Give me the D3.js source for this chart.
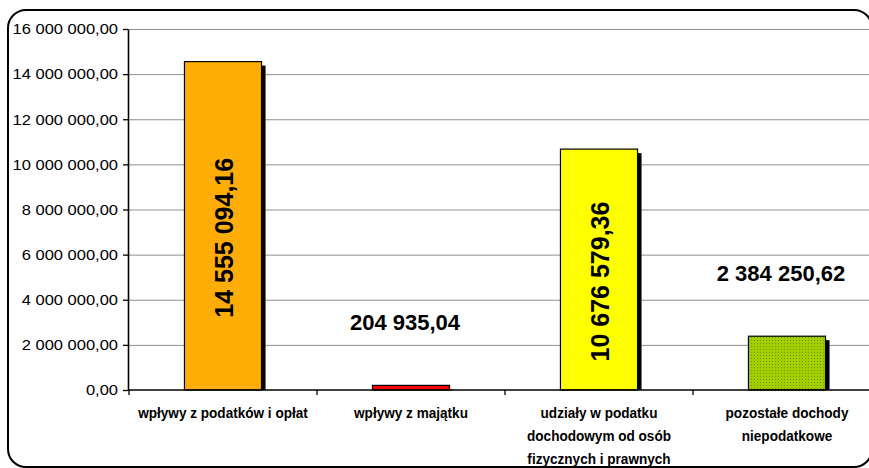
<!DOCTYPE html>
<html>
<head>
<meta charset="utf-8">
<script src="https://cdn.jsdelivr.net/npm/d3@7"></script>
<style>
  html, body { margin: 0; padding: 0; background: #fff; }
  svg { display: block; font-family: "Liberation Sans", Arial, sans-serif; }
</style>
</head>
<body>
<svg id="chart" width="869" height="468"></svg>
<script>
const categories = [
  "wpływy z podatków i opłat",
  "wpływy z majątku",
  "udziały w podatku\ndochodowym od osób\nfizycznych i prawnych",
  "pozostałe dochody\nniepodatkowe"
];
const values = [14555094.16, 204935.04, 10676579.36, 2384250.62];
const yTicks = [0, 2000000, 4000000, 6000000, 8000000, 10000000, 12000000, 14000000, 16000000];
const fills = ["url(#patOrange)", "#FF0000", "#FFFF00", "url(#patGreen)"];

const svg = d3.select("#chart");
const W = 869, H = 468;
const plot = { left: 128, right: 881, top: 29, bottom: 390 };

const pl = d3.formatLocale({ decimal: ",", thousands: " ", grouping: [3], currency: ["", ""] });
const fmt = pl.format(",.2f");

// patterns
const defs = svg.append("defs");
const po = defs.append("pattern").attr("id", "patOrange").attr("width", 2).attr("height", 2).attr("patternUnits", "userSpaceOnUse");
po.append("rect").attr("width", 2).attr("height", 2).attr("fill", "#FFB800");
po.append("rect").attr("width", 1).attr("height", 1).attr("fill", "#FF9A1A");
po.append("rect").attr("x", 1).attr("y", 1).attr("width", 1).attr("height", 1).attr("fill", "#FFAA00");
const pg = defs.append("pattern").attr("id", "patGreen").attr("width", 3).attr("height", 3).attr("patternUnits", "userSpaceOnUse");
pg.append("rect").attr("width", 3).attr("height", 3).attr("fill", "#A2CE00");
pg.append("rect").attr("x", 1).attr("y", 1).attr("width", 1).attr("height", 1).attr("fill", "#749C00");

// border
svg.append("rect").attr("x", 8).attr("y", 10).attr("width", 864).attr("height", 457)
  .attr("rx", 18).attr("ry", 18).attr("fill", "#fff").attr("stroke", "#000").attr("stroke-width", 2);

const x = d3.scaleBand().domain(categories).range([129, 881]).paddingInner(0.59).paddingOuter(0.295);
const y = d3.scaleLinear().domain([0, 16000000]).range([plot.bottom, plot.top]);

// gridlines
svg.append("g").selectAll("line").data(yTicks.filter(d => d > 0)).join("line")
  .attr("x1", plot.left).attr("x2", plot.right)
  .attr("y1", d => y(d) + 0.5).attr("y2", d => y(d) + 0.5)
  .attr("stroke", "#8f8f8f").attr("stroke-width", 1);

// y axis
const yAxis = svg.append("g").attr("transform", `translate(${plot.left},0)`)
  .call(d3.axisLeft(y).tickValues(yTicks).tickFormat(fmt).tickSize(5).tickSizeOuter(0));
yAxis.select(".domain").attr("stroke", "#000").attr("stroke-width", 1.6);
yAxis.selectAll(".tick line").attr("stroke", "#000").attr("stroke-width", 1.3);
yAxis.selectAll(".tick text")
  .attr("font-family", "'Liberation Sans', Arial, sans-serif")
  .attr("font-size", 15).attr("fill", "#000")
  .attr("x", -10 / 1.1).attr("transform", "scale(1.1,1)");

// bars
const bars = svg.append("g").selectAll("g").data(values).join("g");
bars.append("rect")
  .attr("x", (d, i) => x(categories[i]) + 4)
  .attr("y", d => y(d) + 4)
  .attr("width", x.bandwidth())
  .attr("height", d => Math.max(0, y(0) - y(d) - 4))
  .attr("fill", "#000");
bars.append("rect")
  .attr("x", (d, i) => x(categories[i]))
  .attr("y", d => y(d))
  .attr("width", x.bandwidth())
  .attr("height", d => y(0) - y(d))
  .attr("fill", (d, i) => fills[i])
  .attr("stroke", "#000").attr("stroke-width", 1.2);

// x axis line & ticks
svg.append("line").attr("x1", plot.left).attr("x2", W).attr("y1", plot.bottom).attr("y2", plot.bottom)
  .attr("stroke", "#000").attr("stroke-width", 1.6);
const bounds = categories.map((c, i) => 129 + i * x.step());
bounds.push(129 + categories.length * x.step());
svg.append("g").selectAll("line").data(bounds).join("line")
  .attr("x1", d => d).attr("x2", d => d).attr("y1", plot.bottom).attr("y2", plot.bottom + 5)
  .attr("stroke", "#000").attr("stroke-width", 1.3);

// category labels
const cl = svg.append("g").attr("font-weight", "bold").attr("font-size", 14).attr("text-anchor", "middle");
categories.forEach((c, i) => {
  const cx = x(c) + x.bandwidth() / 2;
  const t = cl.append("text").attr("transform", `translate(${cx},0) scale(0.97,1)`).attr("y", 418);
  c.split("\n").forEach((ln, k) => {
    t.append("tspan").attr("x", 0).attr("dy", k === 0 ? 0 : 23).text(ln);
  });
});

// value labels
const vl = svg.append("g").attr("font-weight", "bold").attr("fill", "#000");
values.forEach((v, i) => {
  const cx = x(categories[i]) + x.bandwidth() / 2;
  if (v > 5000000) {
    const my = (y(v) + y(0)) / 2 + 12;
    vl.append("text").attr("transform", `translate(${cx + 1},${my}) rotate(-90)`)
      .attr("text-anchor", "middle").attr("dominant-baseline", "central")
      .attr("font-size", 25).text(fmt(v));
  } else {
    vl.append("text").attr("x", cx - 6).attr("y", y(v) - 55)
      .attr("text-anchor", "middle").attr("font-size", 22).text(fmt(v));
  }
});
</script>
</body>
</html>
